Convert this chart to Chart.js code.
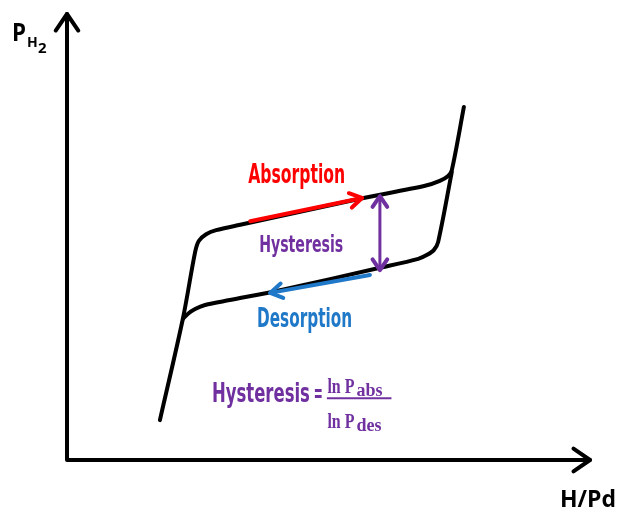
<!DOCTYPE html>
<html>
<head>
<meta charset="utf-8">
<script src="https://cdn.jsdelivr.net/npm/chart.js@4/dist/chart.umd.min.js"></script>
<style>
  html, body { margin: 0; padding: 0; background: #ffffff; }
  #wrap { width: 619px; height: 510px; }
</style>
</head>
<body>
<div id="wrap"><canvas id="chart" width="619" height="510"></canvas></div>
<script>
// schematic isotherm, units are arbitrary (0..100 on both axes)
const absorptionX = [17.7, 22.1, 24.4, 25.1, 26.5, 28.4, 33.0, 55.8, 68.2, 71.0, 72.6, 73.3, 75.6];
const absorptionY = [8.9, 31.7, 46.4, 48.9, 50.4, 51.3, 52.5, 58.3, 61.2, 62.3, 63.4, 64.7, 78.8];

const desorptionX = [73.3, 70.7, 69.9, 68.6, 66.9, 59.6, 40.6, 31.0, 26.3, 24.4, 23.0, 22.1];
const desorptionY = [64.3, 48.7, 46.9, 45.8, 44.9, 42.9, 37.9, 35.7, 34.6, 33.7, 32.6, 31.5];

// arrow shafts, last point is the tip
const absArrowX = [34.9, 56.2];
const absArrowY = [53.3, 58.5];
const desArrowX = [57.7, 38.7];
const desArrowY = [41.3, 37.3];
const hystArrowX = [59.6, 59.6];
const hystArrowY = [58.9, 42.4];

const COLORS = {
  black: "#000000",
  red: "#ff0000",
  blue: "#1f78c8",
  purple: "#7030a0",
};

function pts(xs, ys) {
  return xs.map((x, i) => ({ x: x, y: ys[i] }));
}

function chevron(ctx, tipX, tipY, fromX, fromY, len, spread) {
  const a = Math.atan2(tipY - fromY, tipX - fromX);
  ctx.beginPath();
  ctx.moveTo(tipX - len * Math.cos(a - spread), tipY - len * Math.sin(a - spread));
  ctx.lineTo(tipX, tipY);
  ctx.lineTo(tipX - len * Math.cos(a + spread), tipY - len * Math.sin(a + spread));
  ctx.stroke();
}

// "ln P" followed by a lowered subscript
function lnP(ctx, x, y, sub, serif) {
  ctx.font = "bold 22px " + serif;
  const w = Math.min(ctx.measureText("ln P").width, 27);
  ctx.fillText("ln P", x, y, 27);
  ctx.font = "bold 18px " + serif;
  ctx.fillText(sub, x + w + 2, y + 3, 35);
}

const diagramPlugin = {
  id: "diagram",
  beforeDatasetsDraw(chart) {
    const ctx = chart.ctx;
    const a = chart.chartArea;
    ctx.save();
    ctx.strokeStyle = COLORS.black;
    ctx.lineWidth = 4;
    ctx.lineCap = "round";
    ctx.lineJoin = "round";
    ctx.beginPath();
    ctx.moveTo(a.left, a.top + 2);
    ctx.lineTo(a.left, a.bottom);
    ctx.lineTo(a.right - 2, a.bottom);
    ctx.stroke();
    chevron(ctx, a.left, a.top + 2, a.left, a.bottom, 20, 0.6);
    chevron(ctx, a.right - 2, a.bottom, a.left, a.bottom, 20, 0.6);
    ctx.restore();
  },
  afterDatasetsDraw(chart) {
    const ctx = chart.ctx;
    const xs = chart.scales.x;
    const ys = chart.scales.y;
    const a = chart.chartArea;
    const px = (v) => xs.getPixelForValue(v);
    const py = (v) => ys.getPixelForValue(v);

    ctx.save();
    ctx.lineWidth = 4;
    ctx.lineCap = "round";
    ctx.lineJoin = "round";

    ctx.strokeStyle = COLORS.red;
    chevron(ctx, px(absArrowX[1]), py(absArrowY[1]), px(absArrowX[0]), py(absArrowY[0]), 14, 0.55);
    ctx.strokeStyle = COLORS.blue;
    chevron(ctx, px(desArrowX[1]), py(desArrowY[1]), px(desArrowX[0]), py(desArrowY[0]), 14, 0.55);
    ctx.strokeStyle = COLORS.purple;
    chevron(ctx, px(hystArrowX[1]), py(hystArrowY[1]), px(hystArrowX[0]), py(hystArrowY[0]), 13, 0.6);
    chevron(ctx, px(hystArrowX[0]), py(hystArrowY[0]), px(hystArrowX[1]), py(hystArrowY[1]), 13, 0.6);

    const narrow = '"Liberation Sans Narrow", "DejaVu Sans Condensed", "Liberation Sans", sans-serif';
    ctx.textAlign = "left";
    ctx.textBaseline = "alphabetic";

    ctx.fillStyle = COLORS.red;
    ctx.font = "bold 27px " + narrow;
    ctx.fillText("Absorption", px(34.5), py(61.8), 97);

    ctx.fillStyle = COLORS.purple;
    ctx.font = "bold 23px " + narrow;
    ctx.fillText("Hysteresis", px(36.6), py(46.4), 84);

    ctx.fillStyle = COLORS.blue;
    ctx.font = "bold 26px " + narrow;
    ctx.fillText("Desorption", px(36.2), py(29.7), 95);

    // formula
    ctx.fillStyle = COLORS.purple;
    ctx.font = "bold 27px " + narrow;
    ctx.fillText("Hysteresis", px(27.6), py(12.9), 98);
    ctx.fillText("=", px(47.0), py(12.9), 9);

    ctx.strokeStyle = COLORS.purple;
    ctx.lineWidth = 2;
    ctx.lineCap = "butt";
    ctx.beginPath();
    ctx.moveTo(px(49.5), py(13.8));
    ctx.lineTo(px(61.8), py(13.8));
    ctx.stroke();

    const serif = '"Liberation Serif", "DejaVu Serif", serif';
    lnP(ctx, px(49.6), py(14.9), "abs", serif);
    lnP(ctx, px(49.6), py(7.1), "des", serif);

    // axis titles (outside the plot area)
    ctx.fillStyle = COLORS.black;
    const sans = '"Open Sans", "Liberation Sans", sans-serif';
    ctx.font = "bold 25px " + sans;
    ctx.fillText("P", a.left - 55, a.top + 29, 14);
    ctx.font = "bold 14px " + sans;
    ctx.fillText("H", a.left - 40, a.top + 35, 11);
    ctx.font = "bold 15px " + sans;
    ctx.fillText("2", a.left - 29, a.top + 41, 9);

    ctx.font = "bold 23px " + sans;
    ctx.fillText("H/Pd", a.right - 32, a.bottom + 47, 57);

    ctx.restore();
  },
};

const lineBase = {
  showLine: true,
  pointRadius: 0,
  borderWidth: 4,
  fill: false,
  borderCapStyle: "round",
  borderJoinStyle: "round",
};

new Chart(document.getElementById("chart"), {
  type: "scatter",
  data: {
    datasets: [
      Object.assign({}, lineBase, { label: "absorption arrow", data: pts(absArrowX, absArrowY), borderColor: COLORS.red, order: 0, tension: 0 }),
      Object.assign({}, lineBase, { label: "desorption arrow", data: pts(desArrowX, desArrowY), borderColor: COLORS.blue, order: 0, tension: 0 }),
      Object.assign({}, lineBase, { label: "hysteresis", data: pts(hystArrowX, hystArrowY), borderColor: COLORS.purple, borderWidth: 3, order: 0, tension: 0 }),
      Object.assign({}, lineBase, { label: "absorption", data: pts(absorptionX, absorptionY), borderColor: COLORS.black, order: 1, tension: 0.3 }),
      Object.assign({}, lineBase, { label: "desorption", data: pts(desorptionX, desorptionY), borderColor: COLORS.black, order: 1, tension: 0.3 }),
    ],
  },
  options: {
    responsive: false,
    animation: false,
    layout: { padding: { left: 67, top: 12, right: 27, bottom: 50 } },
    plugins: { legend: { display: false }, tooltip: { enabled: false } },
    scales: {
      x: { type: "linear", min: 0, max: 100, display: false },
      y: { type: "linear", min: 0, max: 100, display: false },
    },
  },
  plugins: [diagramPlugin],
});
</script>
</body>
</html>
